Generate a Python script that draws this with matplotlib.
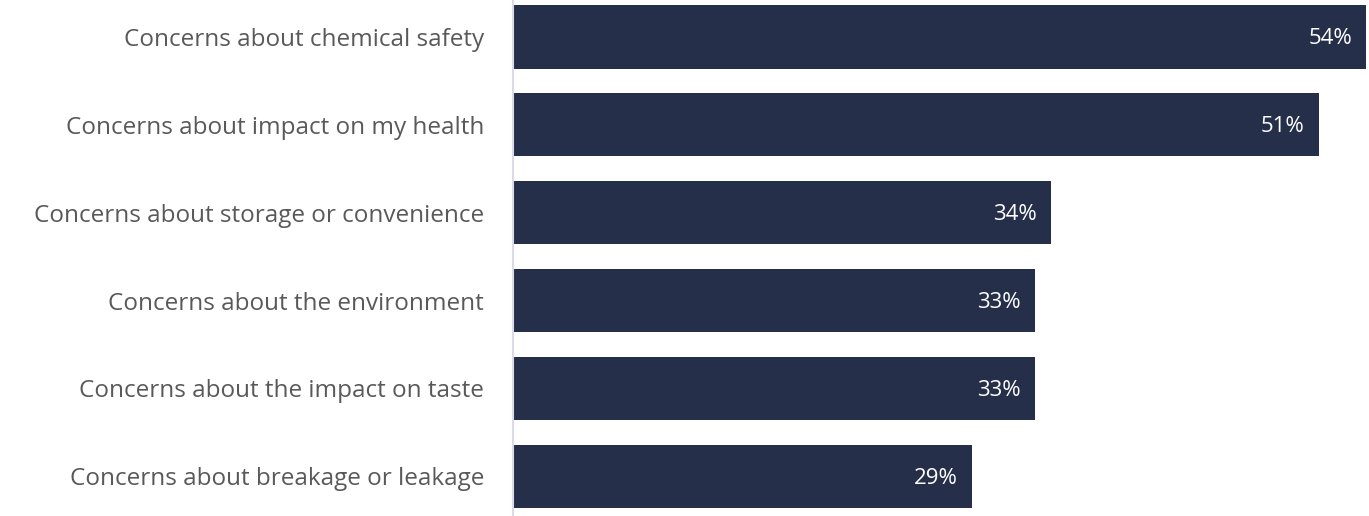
import matplotlib.pyplot as plt
import numpy as np

plt.rcParams['font.family'] = ['Open Sans', 'DejaVu Sans']

# survey answers, top to bottom
categories = ["Concerns about chemical safety",
              "Concerns about impact on my health",
              "Concerns about storage or convenience",
              "Concerns about the environment",
              "Concerns about the impact on taste",
              "Concerns about breakage or leakage"]
values = [54, 51, 34, 33, 33, 29]

bar_color = "#262f4a"
label_color = "#595959"

fig = plt.figure(figsize=(13.69, 5.16), dpi=100)
ax = fig.add_axes([514/1369, 0, 1 - 516/1369, 1])

y = np.arange(len(categories))
ax.barh(y, values, height=0.727, color=bar_color, left=0)

for yi, v in zip(y, values):
    ax.text(v - 0.9, yi + 0.02, "%d%%" % v, color="white", fontsize=16,
            ha="right", va="center")

ax.set_xlim(0, 54.05)
ax.set_ylim(5.449, -0.415)
ax.set_yticks(y)
ax.set_yticklabels(categories)
ax.tick_params(axis="y", length=0, pad=21, labelsize=17.5,
               labelcolor=label_color)
ax.set_xticks([])

for side in ["top", "right", "bottom"]:
    ax.spines[side].set_visible(False)
ax.spines["left"].set_color("#d9dce8")
ax.spines["left"].set_linewidth(1.5)
ax.spines["left"].set_position(("data", -0.05))

fig.savefig("out.png", dpi=100)
